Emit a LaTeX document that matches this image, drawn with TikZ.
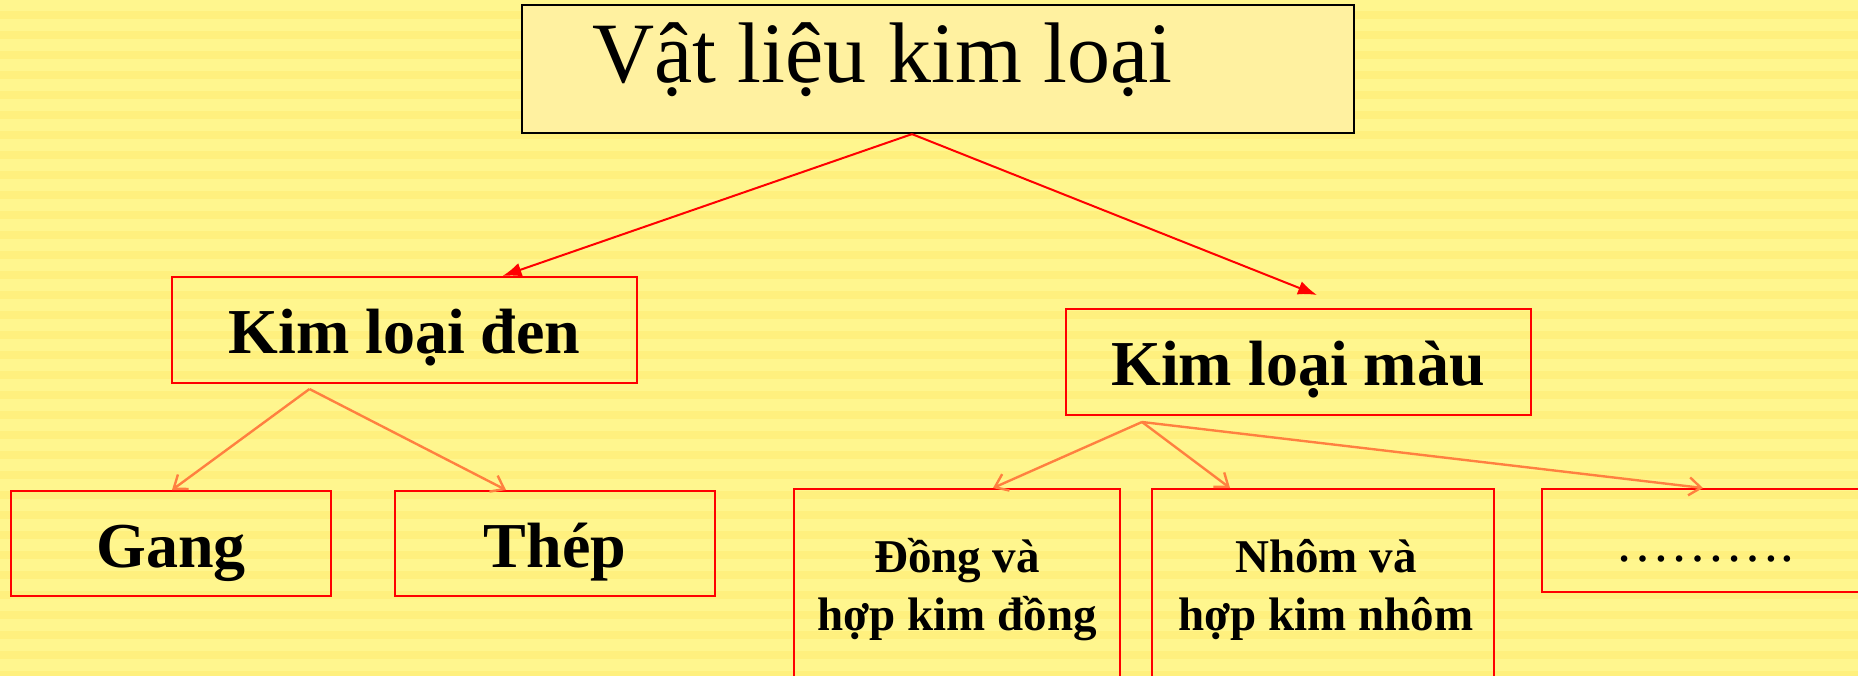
\documentclass[tikz,border=0pt]{standalone}
\usepackage{fontspec}
\setmainfont{Liberation Serif}
\usetikzlibrary{arrows.meta}

\definecolor{bgyellow}{RGB}{255,246,142}
\definecolor{stripeyellow}{RGB}{255,240,126}
\definecolor{titlefill}{RGB}{255,241,160}
\definecolor{linkorange}{RGB}{255,128,64}

\tikzset{
    titlebox/.style = {draw=black, line width=2.2pt, fill=titlefill, inner sep=0pt},
    titletext/.style = {inner sep=0pt, font=\fontsize{86}{100}\selectfont},
    groupbox/.style = {draw=red, line width=2pt, inner sep=0pt, minimum width=465pt, minimum height=106pt,
        font=\bfseries\fontsize{64}{74}\selectfont, text height=47pt, text depth=0pt},
    leafbox/.style = {draw=red, line width=2pt, inner sep=0pt, minimum width=326pt, minimum height=105pt,
        font=\bfseries\fontsize{64}{74}\selectfont, text height=48pt, text depth=0pt},
    leaftext/.style = {inner sep=0pt, align=center, font=\bfseries\fontsize{47}{58}\selectfont},
    mainlink/.style = {red, line width=2pt, -{Latex[length=19pt,width=14pt]}},
    sublink/.style = {linkorange, line width=2.4pt, -{Straight Barb[length=12pt,width=18pt]}}
}

\begin{document}
\begin{tikzpicture}[x=1pt, y=-1pt]
            \useasboundingbox (0,0) rectangle (1858,675);
            \clip (0,0) rectangle (1858,675);
            % striped background
            \fill[bgyellow] (0,0) rectangle (1858,675);
            \foreach \y in {0,20,...,660}
                \fill[stripeyellow] (0,\y+11) rectangle (1858,\y+19);

            % top
            \node[titlebox, minimum width=832pt, minimum height=128pt] (top) at (938,69) {};
            \node[titletext, anchor=base west] (toptitle) at (592,82) {Vật liệu kim loại};

            % second row
            \node[groupbox] (den) at (404.5,330) {Kim loại đen};
            \node[groupbox] (mau) at (1298,362) {Kim loại màu};

            % third row
            \node[leafbox, minimum width=320pt] (gang) at (171,543.5) {Gang};
            \node[leafbox, minimum width=320pt] (thep) at (555,543.5) {Thép};
            \node[leafbox, minimum height=232pt] (dong) at (957,605) {};
            \node[leaftext, anchor=base] (dongtext) at (957,630) {Đồng và\\hợp kim đồng};
            \node[leafbox, minimum width=342pt, minimum height=232pt] (nhom) at (1323,605) {};
            \node[leaftext, anchor=base] (nhomtext) at (1326,630) {Nhôm và\\hợp kim nhôm};
            \node[leafbox, minimum height=103pt, text height=41pt,
                  font=\fontsize{55}{60}\selectfont] (more) at (1705,540.5) {……….};

            %\draw[red] (top.south) -- (den.north);
            \draw[mainlink] ([xshift=-26pt]top.south) -- ([xshift=98pt]den.north);
            \draw[mainlink] ([xshift=-26pt]top.south) -- ([xshift=19pt,yshift=13pt]mau.north);

            \draw[sublink] ([xshift=-95pt,yshift=-5pt]den.south) -- ([xshift=1pt]gang.north);
            \draw[sublink] ([xshift=-95pt,yshift=-5pt]den.south) -- ([xshift=-49pt]thep.north);
            \draw[sublink] ([xshift=-156pt,yshift=-6pt]mau.south) -- ([xshift=36pt]dong.north);
            \draw[sublink] ([xshift=-156pt,yshift=-6pt]mau.south) -- ([xshift=-93pt]nhom.north);
            \draw[sublink] ([xshift=-156pt,yshift=-6pt]mau.south) -- ([xshift=-2pt]more.north);
\end{tikzpicture}
\end{document}
